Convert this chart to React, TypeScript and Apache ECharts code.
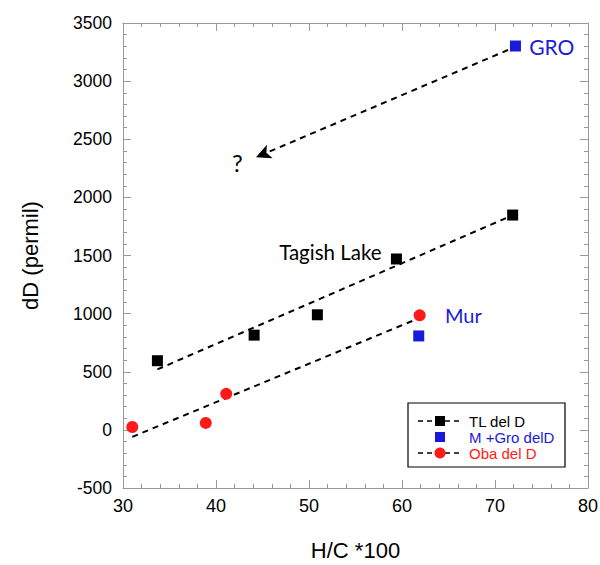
import React, { useEffect, useRef } from "react";
import * as echarts from "echarts";

const tlPoints: [number, number][] = [
  [33.7, 595],
  [44.1, 815],
  [50.9, 990],
  [59.4, 1470],
  [71.9, 1848],
];
const blueSquares: [number, number][] = [
  [72.2, 3302],
  [61.8, 808],
];
const obaPoints: [number, number][] = [
  [31.0, 25],
  [38.9, 60],
  [41.1, 310],
  [61.9, 985],
];
const tlFit: [number, number][] = [
  [33.7, 520],
  [72.0, 1850],
];
const obaFit: [number, number][] = [
  [31.0, -60],
  [61.8, 960],
];
const arrowLine: [number, number][] = [
  [71.4, 3268],
  [44.3, 2345],
];
const annotations: { text: string; pos: [number, number]; color: string; size: number }[] = [
  { text: "GRO", pos: [76.1, 3302], color: "#1a1adb", size: 21 },
  { text: "Tagish Lake", pos: [52.3, 1530], color: "#000000", size: 20.5 },
  { text: "Mur", pos: [66.6, 990], color: "#1a1adb", size: 20 },
  { text: "?", pos: [42.3, 2300], color: "#000000", size: 24 },
];
const legendItems = [
  { name: "TL del D", color: "#000000", symbol: "rect", line: true },
  { name: "M +Gro delD", color: "#1a1adb", symbol: "rect", line: false },
  { name: "Oba del D", color: "#ff1a1a", symbol: "circle", line: true },
];

const AXIS_COLOR = "#999999";
const FONT = "Liberation Sans, Arial, sans-serif";

export default function App() {
  const ref = useRef<HTMLDivElement>(null);
  useEffect(() => {
    if (!ref.current) return;
    const chart = echarts.init(ref.current, undefined, { renderer: "svg" });
    const axisCommon = {
      type: "value" as const,
      axisLine: { show: true, onZero: false, lineStyle: { color: AXIS_COLOR, width: 1 } },
      axisTick: { show: true, inside: true, length: 8, lineStyle: { color: AXIS_COLOR } },
      minorTick: { show: true, splitNumber: 5, length: 4, lineStyle: { color: AXIS_COLOR } },
      splitLine: { show: false },
    };
    const legendGraphics: any[] = [
      {
        type: "rect",
        shape: { x: 408, y: 403, width: 157, height: 64 },
        style: { fill: "#fff", stroke: "#000", lineWidth: 1.2 },
        z: 100,
      },
    ];
    legendItems.forEach((it, i) => {
      const cy = 421 + i * 16;
      if (it.line) {
        legendGraphics.push({
          type: "line",
          shape: { x1: 418, y1: cy, x2: 463, y2: cy },
          style: { stroke: "#000", lineWidth: 1.5, lineDash: [5, 4] },
          z: 101,
        });
      }
      if (it.symbol === "rect") {
        legendGraphics.push({
          type: "rect",
          shape: { x: 435, y: cy - 5, width: 10, height: 10 },
          style: { fill: it.color },
          z: 102,
        });
      } else {
        legendGraphics.push({
          type: "circle",
          shape: { cx: 440, cy, r: 5.5 },
          style: { fill: it.color },
          z: 102,
        });
      }
      legendGraphics.push({
        type: "text",
        x: 469,
        y: cy,
        style: {
          text: it.name,
          fill: it.color,
          font: `15px ${FONT}`,
          verticalAlign: "middle",
        },
        z: 102,
      });
    });

    const fmt = (v: number) => String(v);

    chart.setOption({
      animation: false,
      grid: {
        left: 123,
        right: 12,
        top: 23,
        bottom: 77,
        containLabel: false,
        outerBoundsMode: "none",
      },
      xAxis: [
        {
          ...axisCommon,
          min: 30,
          max: 80,
          interval: 10,
          name: "H/C *100",
          nameLocation: "middle",
          nameGap: 51,
          nameTextStyle: { fontSize: 22, color: "#000", fontFamily: FONT },
          axisLabel: { fontSize: 18, color: "#000", margin: 9, fontFamily: FONT, formatter: fmt },
        },
        {
          ...axisCommon,
          position: "top",
          min: 30,
          max: 80,
          interval: 10,
          axisLabel: { show: false },
        },
      ],
      yAxis: [
        {
          ...axisCommon,
          min: -500,
          max: 3500,
          interval: 500,
          name: "dD (permil)",
          nameLocation: "middle",
          nameGap: 82,
          nameTextStyle: { fontSize: 22, color: "#000", fontFamily: FONT },
          axisLabel: { fontSize: 17.5, color: "#000", margin: 11, fontFamily: FONT, formatter: fmt },
        },
        {
          ...axisCommon,
          position: "right",
          min: -500,
          max: 3500,
          interval: 500,
          axisLabel: { show: false },
        },
      ],
      series: [
        {
          type: "line",
          data: tlFit,
          showSymbol: false,
          symbol: "none",
          lineStyle: { color: "#000", width: 2, type: [6, 5] },
          z: 2,
        },
        {
          type: "line",
          data: obaFit,
          showSymbol: false,
          symbol: "none",
          lineStyle: { color: "#000", width: 2, type: [6, 5] },
          z: 2,
        },
        {
          type: "line",
          data: [],
          markLine: {
            silent: true,
            symbol: ["none", "arrow"],
            symbolSize: [11, 15],
            label: { show: false },
            lineStyle: { color: "#000", width: 2, type: [6, 5], opacity: 1 },
            data: [[{ coord: arrowLine[0] }, { coord: arrowLine[1] }]],
          },
        },
        {
          type: "scatter",
          data: tlPoints,
          symbol: "rect",
          symbolSize: 11,
          itemStyle: { color: "#000", opacity: 1 },
          z: 3,
        },
        {
          type: "scatter",
          data: blueSquares,
          symbol: "rect",
          symbolSize: 11,
          itemStyle: { color: "#1a1adb", opacity: 1 },
          z: 3,
        },
        {
          type: "scatter",
          data: obaPoints,
          symbol: "circle",
          symbolSize: 12,
          itemStyle: { color: "#ff1a1a", opacity: 1 },
          z: 3,
        },
        {
          type: "scatter",
          symbolSize: 0,
          silent: true,
          itemStyle: { opacity: 1 },
          data: annotations.map((a) => ({
            value: a.pos,
            label: {
              show: true,
              formatter: a.text,
              position: "inside",
              color: a.color,
              opacity: 1,
              fontSize: a.size,
              fontFamily: "Lato, Open Sans, sans-serif",
            },
          })),
          z: 4,
        },
      ],
      graphic: legendGraphics,
    });
    return () => chart.dispose();
  }, []);
  return (
    <div
      ref={ref}
      style={{ position: "absolute", left: 0, top: 0, width: 600, height: 565 }}
    />
  );
}
